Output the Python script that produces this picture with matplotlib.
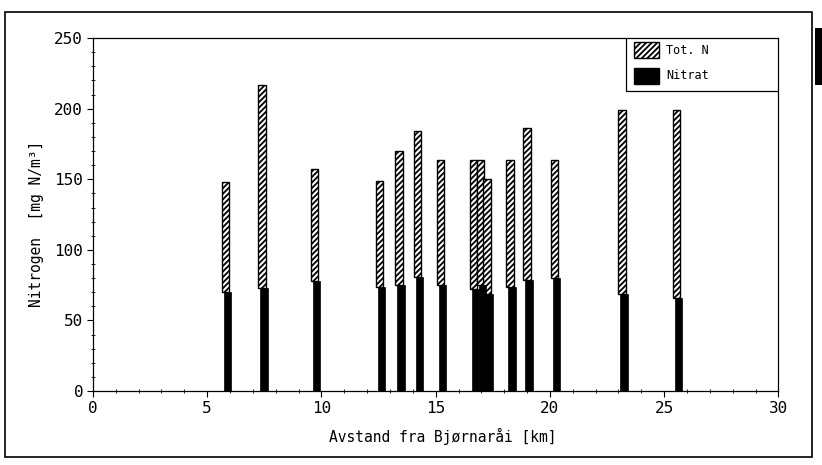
import matplotlib
matplotlib.use("Agg")
import matplotlib.pyplot as plt
from matplotlib.patches import Rectangle
from matplotlib.ticker import MultipleLocator

plt.rcParams['font.family'] = ['DejaVu Sans Mono', 'DejaVu Sans']
plt.rcParams['hatch.linewidth'] = 1.3

# Sampling stations: distance from Bjørnaråi (km)
distance_km = [5.8, 7.4, 9.7, 12.55, 13.4, 14.2, 15.2, 16.65, 16.95, 17.25,
               18.25, 19.0, 20.2, 23.15, 25.55]
# Total nitrogen (mg N/m3)
tot_n = [148, 217, 157, 149, 170, 184, 164, 164, 164, 150,
         164, 186, 164, 199, 199]
# Nitrate (mg N/m3)
nitrat = [70, 73, 78, 74, 75, 81, 75, 72, 75, 69,
          74, 79, 80, 69, 66]

xticks = [0, 5, 10, 15, 20, 25, 30]
yticks = [0, 50, 100, 150, 200, 250]
legend_labels = ['Tot. N', 'Nitrat']

fig = plt.figure(figsize=(8.22, 4.65), dpi=100)
ax = fig.add_axes([0.113, 0.159, 0.834, 0.759])

bar_w = 0.32
shift = 0.09
# Hatched part: total nitrogen above the nitrate level, set slightly left
ax.bar(distance_km, [t - n for t, n in zip(tot_n, nitrat)], bottom=nitrat,
       width=bar_w, color='white', edgecolor='black', hatch='//////',
       linewidth=1.0, zorder=2)
# Solid part: nitrate from zero
ax.bar([d + shift for d in distance_km], nitrat, width=bar_w, color='black',
       edgecolor='black', linewidth=0.5, zorder=3)

ax.set_xlim(0, 30)
ax.set_ylim(0, 250)
ax.set_xticks(xticks)
ax.set_yticks(yticks)
ax.xaxis.set_minor_locator(MultipleLocator(1))
ax.yaxis.set_minor_locator(MultipleLocator(10))
ax.tick_params(which='major', direction='out', length=4, width=0.8,
               labelsize=11.5, pad=3)
ax.tick_params(which='minor', direction='inout', length=3, width=0.6)
for s in ax.spines.values():
    s.set_linewidth(0.9)

ax.set_xlabel('Avstand fra Bjørnaråi [km]', fontsize=10.5)
ax.set_ylabel('Nitrogen  [mg N/m³]', fontsize=10.5)
ax.xaxis.set_label_coords(0.51, -0.105)
ax.yaxis.set_label_coords(-0.072, 0.473)

# Legend box in the upper right corner of the plot area
box_x0, box_y0 = 0.778, 0.85
ax.add_patch(Rectangle((box_x0, box_y0), 1 - box_x0, 1 - box_y0,
                       transform=ax.transAxes, facecolor='white',
                       edgecolor='black', linewidth=0.9, zorder=5))
hw, hh = 0.0365, 0.046
for yc, label, hatched in [(0.966, legend_labels[0], True),
                           (0.893, legend_labels[1], False)]:
    ax.add_patch(Rectangle((0.789, yc - hh / 2), hw, hh,
                           transform=ax.transAxes,
                           facecolor='white' if hatched else 'black',
                           edgecolor='black', linewidth=1.0,
                           hatch='//////' if hatched else None, zorder=6))
    ax.text(0.836, yc, label, transform=ax.transAxes, fontsize=8.5,
            va='center', ha='left', zorder=6)

# Page frame around the figure
fig.patches.append(Rectangle((0.006, 0.017), 0.982, 0.957,
                             transform=fig.transFigure, fill=False,
                             edgecolor='black', linewidth=1.2))
fig.patches.append(Rectangle((0.991, 0.817), 0.009, 0.123,
                             transform=fig.transFigure, facecolor='black',
                             edgecolor='none'))

fig.savefig('out.png', dpi=100)
